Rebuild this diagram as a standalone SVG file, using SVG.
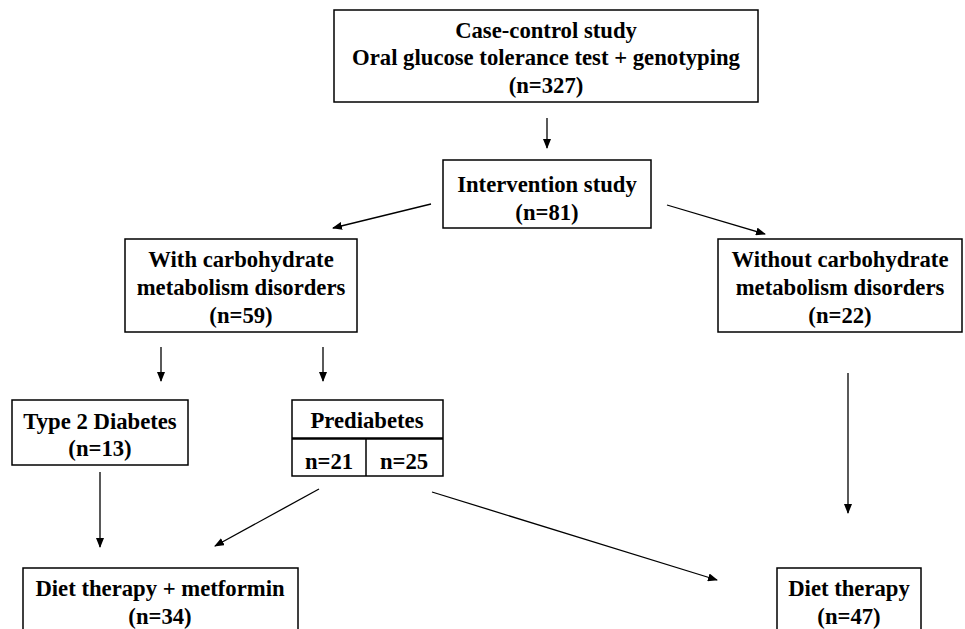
<svg xmlns="http://www.w3.org/2000/svg" width="965" height="629" viewBox="0 0 965 629">
<defs>
<style>
.b{fill:#fff;stroke:#000;stroke-width:1.5}
.t{font-family:"Liberation Serif","Times New Roman",serif;font-weight:bold;font-size:22.7px;text-anchor:middle;fill:#000}
.c{stroke:#000;stroke-width:1.3;fill:none;marker-end:url(#ah)}
</style>
<marker id="ah" markerWidth="10" markerHeight="8" refX="9" refY="4" orient="auto" markerUnits="userSpaceOnUse">
<path d="M0,0 L10,4 L0,8 Z" fill="#000"/>
</marker>
</defs>
<rect width="965" height="629" fill="#fff"/>
<g id="n_case">
<rect class="b" x="334" y="10" width="424" height="92"/>
<text class="t" x="546" y="38">Case-control study</text>
<text class="t" x="546" y="65">Oral glucose tolerance test + genotyping</text>
<text class="t" x="546" y="93">(n=327)</text>
</g>
<g id="n_int">
<rect class="b" x="443" y="160" width="208" height="68"/>
<text class="t" x="547" y="192">Intervention study</text>
<text class="t" x="547" y="220">(n=81)</text>
</g>
<g id="n_with">
<rect class="b" x="125" y="239" width="232" height="93"/>
<text class="t" x="241" y="267">With carbohydrate</text>
<text class="t" x="241" y="295">metabolism disorders</text>
<text class="t" x="241" y="323">(n=59)</text>
</g>
<g id="n_without">
<rect class="b" x="718" y="239" width="244" height="93"/>
<text class="t" x="840" y="267">Without carbohydrate</text>
<text class="t" x="840" y="295">metabolism disorders</text>
<text class="t" x="840" y="323">(n=22)</text>
</g>
<g id="n_t2d">
<rect class="b" x="12" y="400" width="176" height="65"/>
<text class="t" x="100" y="429">Type 2 Diabetes</text>
<text class="t" x="100" y="456">(n=13)</text>
</g>
<g id="n_pre">
<rect class="b" x="292" y="400" width="151" height="76"/>
<line x1="292" y1="438.5" x2="443" y2="438.5" stroke="#000" stroke-width="2.5"/>
<line x1="366" y1="438" x2="366" y2="476" stroke="#000" stroke-width="1.5"/>
<text class="t" x="367" y="428">Prediabetes</text>
<text class="t" x="329" y="469">n=21</text>
<text class="t" x="404" y="469">n=25</text>
</g>
<g id="n_dm">
<rect class="b" x="23" y="568" width="275" height="80"/>
<text class="t" x="160" y="596">Diet therapy + metformin</text>
<text class="t" x="160" y="624">(n=34)</text>
</g>
<g id="n_d">
<rect class="b" x="777" y="568" width="144" height="80"/>
<text class="t" x="849" y="596">Diet therapy</text>
<text class="t" x="849" y="624">(n=47)</text>
</g>
<g id="connectors">
<line class="c" x1="547" y1="118" x2="547" y2="148"/>
<line class="c" x1="431" y1="204" x2="333" y2="228"/>
<line class="c" x1="667" y1="205" x2="765" y2="234"/>
<line class="c" x1="161" y1="347" x2="161" y2="381"/>
<line class="c" x1="323" y1="347" x2="323" y2="381"/>
<line class="c" x1="100" y1="472" x2="100" y2="547"/>
<line class="c" x1="319" y1="489" x2="215" y2="546"/>
<line class="c" x1="432" y1="492" x2="717" y2="580"/>
<line class="c" x1="848" y1="373" x2="848" y2="513"/>
</g>
</svg>
